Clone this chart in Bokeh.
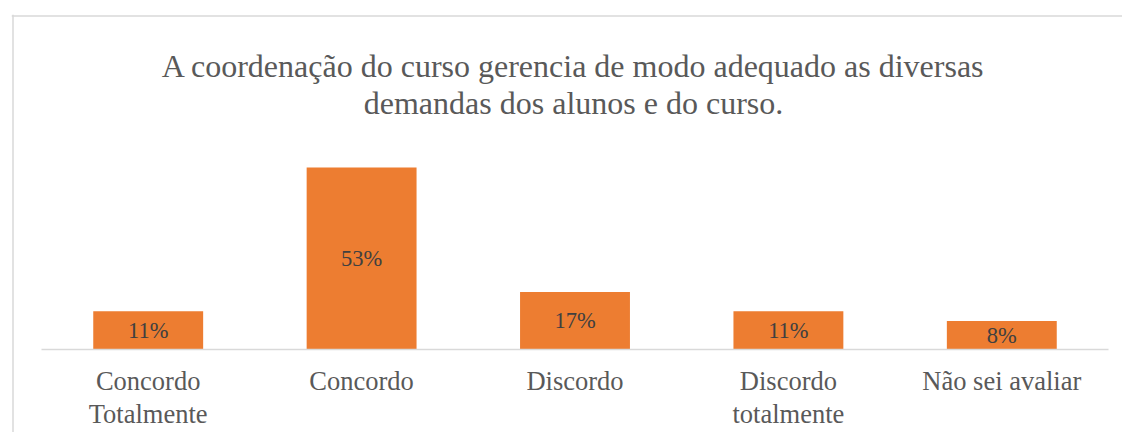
from bokeh.plotting import figure
from bokeh.models import (ColumnDataSource, LinearAxis, FixedTicker, LabelSet,
                          Label, Span, Range1d)
from bokeh.embed import file_html
from bokeh.resources import INLINE

# ---- data ----
categories = ["Concordo\nTotalmente", "Concordo", "Discordo",
              "Discordo\ntotalmente", "Não sei avaliar"]
values = [11.1, 52.8, 16.7, 11.1, 8.3]
value_labels = ["11%", "53%", "17%", "11%", "8%"]
title_lines = ["A coordenação do curso gerencia de modo adequado as diversas",
               "demandas dos alunos e do curso."]

positions = [i + 0.5 for i in range(len(categories))]
source = ColumnDataSource(dict(
    x=positions,
    top=values,
    mid=[v / 2 for v in values],
    lbl=value_labels,
))

SERIF = "Liberation Serif"
GRAY = "#595959"

p = figure(width=1122, height=432, output_backend="svg", toolbar_location=None,
           x_axis_location=None, y_axis_location=None,
           x_range=Range1d(-0.1406, 5.0656), y_range=Range1d(-24.08, 97.19),
           min_border_left=11, min_border_top=14, min_border_right=0,
           min_border_bottom=0)
p.outline_line_color = None
p.xgrid.visible = False
p.ygrid.visible = False
p.background_fill_color = "white"
p.border_fill_color = "white"

p.vbar(x="x", top="top", width=0.515, source=source,
       fill_color="#ED7D31", line_color=None)

axis = LinearAxis(ticker=FixedTicker(ticks=positions),
                  major_label_overrides={pos: c for pos, c in zip(positions, categories)},
                  fixed_location=0, bounds=(0, len(categories)))
axis.axis_line_color = "#D9D9D9"
axis.axis_line_width = 1.3
axis.major_tick_line_color = None
axis.minor_tick_line_color = None
axis.major_label_text_font = SERIF
axis.major_label_text_font_size = "26.5px"
axis.major_label_text_color = GRAY
axis.major_label_standoff = 11
axis.major_label_text_line_height = 1.1
p.add_layout(axis, "below")

labels = LabelSet(x="x", y="mid", text="lbl", source=source,
                  text_align="center", text_baseline="middle",
                  text_font=SERIF, text_font_size="22.5px", text_color="#404040")
p.add_layout(labels)

for line, ypos in zip(title_lines, [65, 102]):
    p.add_layout(Label(x=573, y=ypos, x_units="canvas", y_units="canvas",
                       text=line, text_align="center",
                       text_baseline="alphabetic", text_font=SERIF,
                       text_font_size="32px", text_color=GRAY))

p.add_layout(Span(location=12.5, location_units="canvas", dimension="height",
                  line_color="#D9D9D9", line_width=1.5))
p.add_layout(Span(location=15.5, location_units="canvas", dimension="width",
                  line_color="#D9D9D9", line_width=1.5))

open("out.html", "w").write(file_html(p, INLINE))
